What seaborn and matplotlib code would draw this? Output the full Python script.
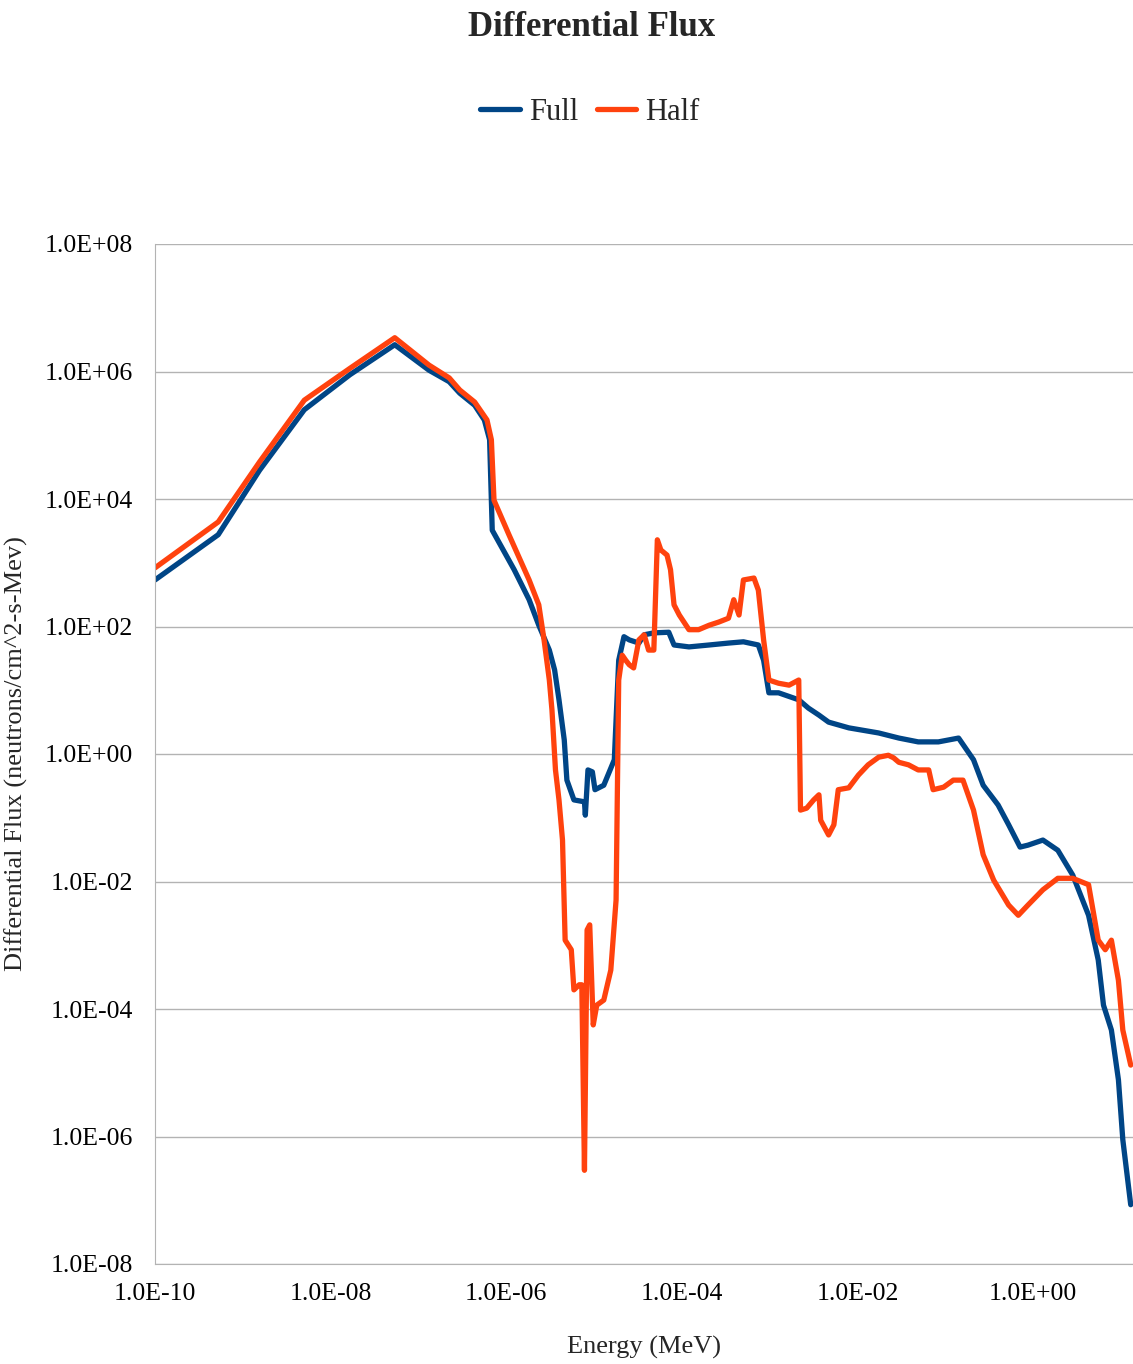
import numpy as np
import pandas as pd
import matplotlib
matplotlib.use('Agg')
import matplotlib.pyplot as plt
from matplotlib.ticker import FuncFormatter, FixedLocator
import seaborn as sns

# log10 of energy (MeV) and flux
full_logE = [-10.00,-9.28,-8.81,-8.30,-7.78,-7.27,-6.88,-6.65,-6.53,-6.36,-6.25,-6.19,-6.16,-5.91,-5.74,-5.63,-5.51,-5.45,-5.40,-5.34,-5.31,-5.23,-5.11,-5.10,-5.07,-5.02,-4.99,-4.89,-4.77,-4.72,-4.66,-4.60,-4.49,-4.43,-4.32,-4.15,-4.09,-3.92,-3.69,-3.47,-3.30,-3.13,-3.07,-3.01,-2.90,-2.67,-2.56,-2.44,-2.33,-2.10,-1.76,-1.53,-1.31,-1.08,-0.85,-0.68,-0.57,-0.40,-0.28,-0.15,-0.06,0.11,0.28,0.45,0.63,0.74,0.80,0.89,0.97,1.02,1.11]
full_logF = [2.73,3.44,4.45,5.40,5.95,6.42,6.02,5.84,5.66,5.47,5.24,4.93,3.51,2.89,2.42,2.02,1.63,1.32,0.85,0.22,-0.41,-0.72,-0.75,-0.96,-0.25,-0.28,-0.56,-0.49,-0.09,1.47,1.84,1.79,1.74,1.87,1.90,1.91,1.71,1.68,1.71,1.74,1.76,1.71,1.47,0.96,0.96,0.85,0.72,0.61,0.50,0.41,0.33,0.25,0.19,0.19,0.25,-0.09,-0.49,-0.80,-1.11,-1.46,-1.43,-1.35,-1.51,-1.90,-2.53,-3.23,-3.94,-4.33,-5.11,-6.05,-7.07]
half_logE = [-10.00,-9.28,-8.81,-8.30,-7.78,-7.27,-6.88,-6.65,-6.53,-6.36,-6.22,-6.17,-6.14,-5.97,-5.74,-5.63,-5.57,-5.51,-5.48,-5.44,-5.40,-5.36,-5.33,-5.26,-5.23,-5.17,-5.14,-5.11,-5.08,-5.05,-5.01,-4.97,-4.89,-4.81,-4.75,-4.72,-4.68,-4.64,-4.60,-4.55,-4.49,-4.43,-4.38,-4.32,-4.28,-4.24,-4.17,-4.13,-4.09,-4.03,-3.92,-3.81,-3.69,-3.58,-3.47,-3.41,-3.35,-3.30,-3.18,-3.13,-3.07,-3.01,-2.90,-2.78,-2.67,-2.65,-2.58,-2.50,-2.44,-2.42,-2.33,-2.27,-2.22,-2.10,-1.99,-1.88,-1.76,-1.65,-1.59,-1.53,-1.42,-1.31,-1.19,-1.14,-1.02,-0.91,-0.80,-0.68,-0.57,-0.45,-0.28,-0.17,-0.06,0.11,0.28,0.45,0.63,0.74,0.82,0.89,0.97,1.02,1.11]
half_logF = [2.92,3.64,4.58,5.55,6.05,6.53,6.10,5.90,5.71,5.52,5.24,4.93,3.98,3.44,2.73,2.34,1.79,1.16,0.69,-0.25,-0.72,-1.35,-2.92,-3.07,-3.70,-3.62,-3.62,-6.53,-2.76,-2.68,-4.25,-3.94,-3.86,-3.39,-2.29,1.16,1.55,1.47,1.40,1.35,1.79,1.87,1.63,1.63,3.36,3.20,3.12,2.89,2.34,2.18,1.95,1.95,2.02,2.07,2.13,2.42,2.18,2.73,2.76,2.57,1.79,1.16,1.11,1.08,1.16,-0.88,-0.85,-0.72,-0.64,-1.04,-1.27,-1.11,-0.56,-0.53,-0.33,-0.17,-0.05,-0.02,-0.06,-0.13,-0.17,-0.25,-0.25,-0.56,-0.52,-0.41,-0.41,-0.88,-1.58,-1.98,-2.37,-2.53,-2.37,-2.13,-1.95,-1.95,-2.05,-2.92,-3.07,-2.92,-3.55,-4.33,-4.88]

df = pd.concat([
    pd.DataFrame({'Energy': 10**np.array(full_logE), 'Flux': 10**np.array(full_logF), 'Series': 'Full'}),
    pd.DataFrame({'Energy': 10**np.array(half_logE), 'Flux': 10**np.array(half_logF), 'Series': 'Half'}),
])

sns.set_style('white')
plt.rcParams['font.family'] = ['Liberation Serif', 'DejaVu Serif']

fig = plt.figure(figsize=(11.33, 13.64), dpi=100)
ax = fig.add_axes([155/1133, 1-1264/1364, 1-155/1133, (1264-244)/1364])
sns.lineplot(data=df, x='Energy', y='Flux', hue='Series', sort=False, estimator=None,
             palette={'Full': '#004586', 'Half': '#ff420e'}, linewidth=3.8, ax=ax)
ax.set_xscale('log')
ax.set_yscale('log')
ax.set_xlim(1e-10, 10**1.136)
ax.set_ylim(1e-8, 1e8)
ax.xaxis.set_major_locator(FixedLocator([1e-10, 1e-8, 1e-6, 1e-4, 1e-2, 1e0]))
ax.yaxis.set_major_locator(FixedLocator([10.0**k for k in range(-8, 9, 2)]))
ax.xaxis.set_minor_locator(FixedLocator([]))
ax.yaxis.set_minor_locator(FixedLocator([]))
fmt = FuncFormatter(lambda v, p: f'{v:.1E}')
ax.xaxis.set_major_formatter(fmt)
ax.yaxis.set_major_formatter(fmt)
ax.tick_params(axis='both', labelsize=18.5, length=6, color='#b3b3b3', direction='out', colors='#000000')
ax.tick_params(axis='x', pad=8, color='#b3b3b3')
ax.tick_params(axis='y', length=0, pad=16)
ax.grid(axis='y', color='#b3b3b3', linewidth=1)
for s in ['top', 'right']:
    ax.spines[s].set_visible(False)
for s in ['left', 'bottom']:
    ax.spines[s].set_color('#b3b3b3')
ax.set_xlabel('Energy (MeV)', fontsize=19, labelpad=22)
ax.set_ylabel('Differential Flux (neutrons/cm^2-s-Mev)', fontsize=19, labelpad=12)
ax.legend(loc='center', bbox_to_anchor=(590/1133, 1 - 112/1364), bbox_transform=fig.transFigure,
          ncol=2, frameon=False, fontsize=22, handlelength=1.3, handletextpad=0.3, columnspacing=0.6)
fig.text(592/1133, 1 - 28/1364, 'Differential Flux', ha='center', va='center', fontsize=25, fontweight='bold')
fig.savefig('out.png', dpi=100)
